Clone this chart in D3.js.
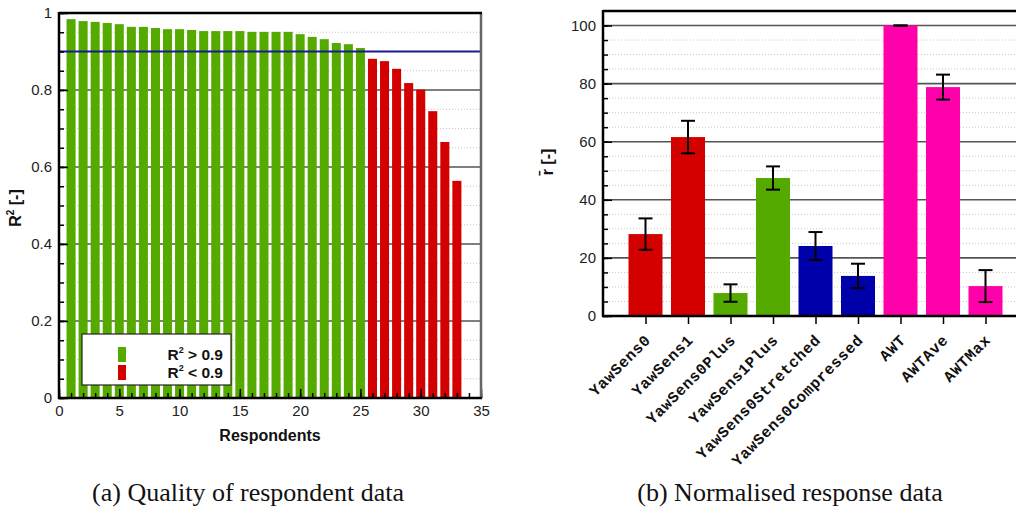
<!DOCTYPE html>
<html>
<head>
<meta charset="utf-8">
<script src="https://cdn.jsdelivr.net/npm/d3@7"></script>
<style>
  body { margin: 0; background: #fff; }
  svg { display: block; }
</style>
</head>
<body>
<svg id="chart" width="1016" height="514"></svg>
<script>
// ---------- Data ----------
// (a) quality of respondent data
const respondents = d3.range(1, 34);
const r2Values = [0.984, 0.979, 0.977, 0.974, 0.971, 0.964, 0.964, 0.961, 0.958, 0.958,
                  0.956, 0.953, 0.953, 0.953, 0.953, 0.951, 0.951, 0.951, 0.951, 0.945,
                  0.938, 0.932, 0.922, 0.919, 0.909, 0.881, 0.875, 0.855, 0.818, 0.801,
                  0.745, 0.665, 0.564];
const r2Threshold = 0.9;
const leftYTicks = [0, 0.2, 0.4, 0.6, 0.8, 1];
const leftYTickLabels = ["0", "0.2", "0.4", "0.6", "0.8", "1"];
const leftXTicks = [0, 5, 10, 15, 20, 25, 30, 35];
const legendLabels = [">", "<"];

// (b) normalised response data
const cases = ["YawSens0", "YawSens1", "YawSens0Plus", "YawSens1Plus", "YawSens0Stretched",
               "YawSens0Compressed", "AWT", "AWTAve", "AWTMax"];
const caseGroup = ["red", "red", "green", "green", "blue", "blue", "magenta", "magenta", "magenta"];
const rValues = [28.2, 61.6, 7.9, 47.5, 24.1, 13.8, 100, 78.8, 10.3];
const rErrors = [5.4, 5.6, 3.0, 4.0, 4.8, 4.2, 0, 4.3, 5.5];
const rightYTicks = [0, 20, 40, 60, 80, 100];

const captions = ["(a) Quality of respondent data", "(b) Normalised response data"];

// ---------- Styles ----------
const colors = { red: "#d40000", green: "#55aa00", blue: "#0000aa", magenta: "#ff00aa" };
const sans = "'Liberation Sans', Arial, Helvetica, sans-serif";
const mono = "'Liberation Mono', 'Courier New', monospace";
const serif = "'Liberation Serif', 'Times New Roman', serif";

const svg = d3.select("#chart");
svg.append("rect").attr("width", 1016).attr("height", 514).attr("fill", "#fff");

function styleAxis(g, fontSize, family) {
  g.select(".domain").remove();
  g.selectAll(".tick line").attr("stroke", "#000").attr("stroke-width", 1.5);
  g.selectAll(".tick text").attr("fill", "#222").style("font-family", family).style("font-size", fontSize + "px");
}

// ================= LEFT CHART =================
const L = { left: 59, right: 481, top: 13, bottom: 398 };
const xL = d3.scaleLinear().domain([0, 35]).range([L.left, L.right]);
const yL = d3.scaleLinear().domain([0, 1]).range([L.bottom, L.top]);
const gL = svg.append("g");

// minor dotted grid
gL.append("g").selectAll("line")
  .data(d3.range(0.05, 1.0, 0.05).filter(v => Math.abs((v * 5) - Math.round(v * 5)) > 1e-6))
  .join("line")
  .attr("x1", L.left).attr("x2", L.right)
  .attr("y1", d => yL(d)).attr("y2", d => yL(d))
  .attr("stroke", "#c8c8c8").attr("stroke-width", 1).attr("stroke-dasharray", "1,2");
// major grid
gL.append("g").selectAll("line")
  .data(leftYTicks.slice(1, -1))
  .join("line")
  .attr("x1", L.left).attr("x2", L.right)
  .attr("y1", d => yL(d)).attr("y2", d => yL(d))
  .attr("stroke", "#555").attr("stroke-width", 1.6);

// bars
const barW = xL(0.75) - xL(0);
gL.append("g").selectAll("rect")
  .data(respondents.map((r, i) => ({ r, v: r2Values[i] })))
  .join("rect")
  .attr("x", d => xL(d.r) - barW / 2)
  .attr("width", barW)
  .attr("y", d => yL(d.v))
  .attr("height", d => yL(0) - yL(d.v))
  .attr("fill", d => d.v > r2Threshold ? colors.green : colors.red);

// threshold line
gL.append("line")
  .attr("x1", L.left).attr("x2", L.right)
  .attr("y1", yL(r2Threshold)).attr("y2", yL(r2Threshold))
  .attr("stroke", "#1a1a90").attr("stroke-width", 2);

// axes ticks
const yMinorL = gL.append("g").attr("transform", `translate(${L.left},0)`)
  .call(d3.axisLeft(yL).tickValues(d3.range(0, 1.001, 0.05)).tickSize(-5).tickFormat(""));
styleAxis(yMinorL, 15, sans);
const yMajorL = gL.append("g").attr("transform", `translate(${L.left},0)`)
  .call(d3.axisLeft(yL).tickValues(leftYTicks).tickSize(-9).tickPadding(7)
    .tickFormat((d, i) => leftYTickLabels[i]));
styleAxis(yMajorL, 15, sans);

const xMinorL = gL.append("g").attr("transform", `translate(0,${L.bottom})`)
  .call(d3.axisBottom(xL).tickValues(d3.range(0, 36, 1)).tickSize(-5).tickFormat(""));
styleAxis(xMinorL, 15, sans);
const xMajorL = gL.append("g").attr("transform", `translate(0,${L.bottom})`)
  .call(d3.axisBottom(xL).tickValues(leftXTicks).tickSize(-9).tickPadding(7).tickFormat(d3.format("d")));
styleAxis(xMajorL, 15, sans);

// frame
gL.append("line").attr("x1", L.right).attr("x2", L.right).attr("y1", L.top).attr("y2", L.bottom)
  .attr("stroke", "#666").attr("stroke-width", 2.5);
gL.append("line").attr("x1", L.left).attr("x2", L.right + 1).attr("y1", L.top).attr("y2", L.top)
  .attr("stroke", "#000").attr("stroke-width", 2.5);
gL.append("line").attr("x1", L.left).attr("x2", L.left).attr("y1", L.top - 1).attr("y2", L.bottom + 1)
  .attr("stroke", "#000").attr("stroke-width", 2.5);
gL.append("line").attr("x1", L.left - 1).attr("x2", L.right + 1).attr("y1", L.bottom).attr("y2", L.bottom)
  .attr("stroke", "#000").attr("stroke-width", 2.5);

// axis titles
gL.append("text").attr("x", (L.left + L.right) / 2).attr("y", 441).attr("text-anchor", "middle")
  .style("font-family", sans).style("font-size", "16px").style("font-weight", "bold").attr("fill", "#111")
  .text("Respondents");
const yt = gL.append("text").attr("transform", `translate(21,208) rotate(-90)`).attr("text-anchor", "middle")
  .style("font-family", sans).style("font-size", "16px").style("font-weight", "bold").attr("fill", "#111");
yt.append("tspan").text("R");
yt.append("tspan").attr("dy", -7).style("font-size", "10px").text("2");
yt.append("tspan").attr("dy", 7).text(" [-]");

// legend
const lg = gL.append("g");
lg.append("rect").attr("x", 82).attr("y", 334).attr("width", 149).attr("height", 51)
  .attr("fill", "#fff").attr("stroke", "#222").attr("stroke-width", 1.2);
const legendColors = [colors.green, colors.red];
legendLabels.forEach((op, i) => {
  lg.append("rect").attr("x", 118).attr("y", 347 + i * 18).attr("width", 8).attr("height", 15)
    .attr("fill", legendColors[i]);
  const t = lg.append("text").attr("x", 223).attr("y", 360 + i * 18).attr("text-anchor", "end")
    .style("font-family", sans).style("font-size", "15.5px").style("font-weight", "bold").attr("fill", "#111");
  t.append("tspan").text("R");
  t.append("tspan").attr("dy", -7).style("font-size", "9px").text("2");
  t.append("tspan").attr("dy", 7).text(` ${op} 0.9`);
});

// ================= RIGHT CHART =================
const R = { left: 603, right: 1028, top: 11, bottom: 316 };
const xR = d3.scaleLinear().domain([0, 10]).range([R.left, R.right]);
const yR = d3.scaleLinear().domain([0, 105]).range([R.bottom, R.top]);
const gR = svg.append("g");

gR.append("g").selectAll("line")
  .data(d3.range(5, 105, 5).filter(v => v % 20 !== 0))
  .join("line")
  .attr("x1", R.left).attr("x2", R.right)
  .attr("y1", d => yR(d)).attr("y2", d => yR(d))
  .attr("stroke", "#c8c8c8").attr("stroke-width", 1).attr("stroke-dasharray", "1,2");
gR.append("g").selectAll("line")
  .data(rightYTicks.slice(1))
  .join("line")
  .attr("x1", R.left).attr("x2", R.right)
  .attr("y1", d => yR(d)).attr("y2", d => yR(d))
  .attr("stroke", "#555").attr("stroke-width", 1.6);

const bw = xR(0.8) - xR(0);
const rData = cases.map((c, i) => ({ c, i: i + 1, v: rValues[i], e: rErrors[i], g: caseGroup[i] }));
gR.append("g").selectAll("rect").data(rData).join("rect")
  .attr("x", d => xR(d.i) - bw / 2).attr("width", bw)
  .attr("y", d => yR(d.v)).attr("height", d => yR(0) - yR(d.v))
  .attr("fill", d => colors[d.g]);

// error bars
const eb = gR.append("g").attr("stroke", "#000").attr("stroke-width", 2);
const capW = 7;
eb.selectAll(".v").data(rData).join("line")
  .attr("x1", d => xR(d.i)).attr("x2", d => xR(d.i))
  .attr("y1", d => yR(d.v - d.e)).attr("y2", d => yR(d.v + d.e));
eb.selectAll(".t").data(rData).join("line")
  .attr("x1", d => xR(d.i) - capW).attr("x2", d => xR(d.i) + capW)
  .attr("y1", d => yR(d.v + d.e)).attr("y2", d => yR(d.v + d.e));
eb.selectAll(".b").data(rData).join("line")
  .attr("x1", d => xR(d.i) - capW).attr("x2", d => xR(d.i) + capW)
  .attr("y1", d => yR(d.v - d.e)).attr("y2", d => yR(d.v - d.e));

const yMinorR = gR.append("g").attr("transform", `translate(${R.left},0)`)
  .call(d3.axisLeft(yR).tickValues(d3.range(0, 105, 5)).tickSize(-5).tickFormat(""));
styleAxis(yMinorR, 15, sans);
const yMajorR = gR.append("g").attr("transform", `translate(${R.left},0)`)
  .call(d3.axisLeft(yR).tickValues(rightYTicks).tickSize(-9).tickPadding(7).tickFormat(d3.format("d")));
styleAxis(yMajorR, 15, sans);

const xAxR = gR.append("g").attr("transform", `translate(0,${R.bottom})`)
  .call(d3.axisBottom(xR).tickValues(d3.range(1, 10)).tickSize(8).tickFormat(""));
styleAxis(xAxR, 15, sans);

gR.append("line").attr("x1", R.left).attr("x2", R.right).attr("y1", R.top).attr("y2", R.top)
  .attr("stroke", "#000").attr("stroke-width", 2.5);
gR.append("line").attr("x1", R.left).attr("x2", R.left).attr("y1", R.top - 1).attr("y2", R.bottom + 1)
  .attr("stroke", "#000").attr("stroke-width", 2.5);
gR.append("line").attr("x1", R.left - 1).attr("x2", R.right).attr("y1", R.bottom).attr("y2", R.bottom)
  .attr("stroke", "#000").attr("stroke-width", 2.5);

// rotated category labels
gR.append("g").selectAll("text").data(rData).join("text")
  .attr("transform", d => `translate(${xR(d.i) + 6},${R.bottom + 25}) rotate(-45)`)
  .attr("text-anchor", "end")
  .style("font-family", mono).style("font-size", "15.5px").style("font-weight", "bold")
  .style("letter-spacing", "0.6px").attr("fill", "#111")
  .text(d => d.c);

gR.append("text").attr("transform", `translate(553,162) rotate(-90)`).attr("text-anchor", "middle")
  .style("font-family", sans).style("font-size", "16px").style("font-weight", "bold").attr("fill", "#111")
  .text("r\u0304 [-]");

// ================= CAPTIONS =================
svg.append("g").selectAll("text").data(captions).join("text")
  .attr("x", (d, i) => [248, 790][i]).attr("y", 501).attr("text-anchor", "middle")
  .style("font-family", serif).style("font-size", "26px").attr("fill", "#111")
  .text(d => d);
</script>
</body>
</html>
